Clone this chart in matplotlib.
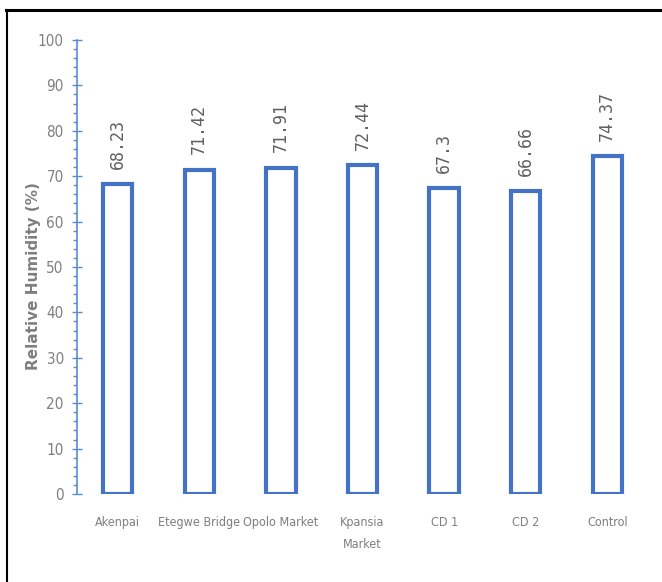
import matplotlib.pyplot as plt
from matplotlib.lines import Line2D
from matplotlib.ticker import MultipleLocator

# relative humidity per sampling site
sites = ["Akenpai", "Etegwe Bridge", "Opolo Market", "Kpansia\nMarket", "CD 1", "CD 2", "Control"]
humidity = [68.23, 71.42, 71.91, 72.44, 67.3, 66.66, 74.37]

blue = "#4472C4"
axis_blue = "#5B8AD6"
grey = "#7F7F7F"

fig = plt.figure(figsize=(6.62, 5.82), dpi=100)
ax = fig.add_axes([0.1163, 0.1512, 0.8627, 0.7801])

x = range(len(sites))
bars = ax.bar(x, humidity, width=0.36, color="white", edgecolor=blue, linewidth=3)

for rect, v in zip(bars, humidity):
    ax.annotate(str(v), xy=(rect.get_x() + rect.get_width() / 2, v),
                xytext=(0, 11), textcoords="offset points",
                rotation=90, ha="center", va="bottom",
                fontsize=12, color="#606060", family="DejaVu Sans Mono")

ax.set_xlim(-0.5, len(sites) - 0.5)
ax.set_ylim(0, 100)
ax.yaxis.set_major_locator(MultipleLocator(10))
ax.yaxis.set_minor_locator(MultipleLocator(2))

for side in ["top", "right", "bottom"]:
    ax.spines[side].set_visible(False)
ax.spines["left"].set_color(axis_blue)
ax.spines["left"].set_linewidth(1.2)

ax.tick_params(axis="y", which="major", direction="inout", length=7, width=1,
               color=axis_blue, pad=6, labelsize=11, labelcolor=grey)
ax.tick_params(axis="y", which="minor", direction="out", length=3, width=1,
               color=axis_blue)
ax.set_xticks(list(x))
ax.set_xticklabels(sites, linespacing=1.9)
ax.tick_params(axis="x", length=0, pad=16, labelsize=9, labelcolor=grey)
for lab in ax.get_xticklabels() + ax.get_yticklabels():
    lab.set_family("DejaVu Sans")
    lab.set_fontstretch("condensed")

ax.set_ylabel("Relative Humidity (%)", fontsize=11, fontweight="bold",
              color=grey, family="DejaVu Sans")
ax.yaxis.set_label_coords(-0.063, 0.48)

# frame round the figure: top and left edges
fig.add_artist(Line2D([6 / 662, 1], [1 - 10 / 582, 1 - 10 / 582],
                      transform=fig.transFigure, color="black", linewidth=2.2))
fig.add_artist(Line2D([6.5 / 662, 6.5 / 662], [0, 1 - 10 / 582],
                      transform=fig.transFigure, color="black", linewidth=1.5))

fig.savefig("out.png", dpi=100)
